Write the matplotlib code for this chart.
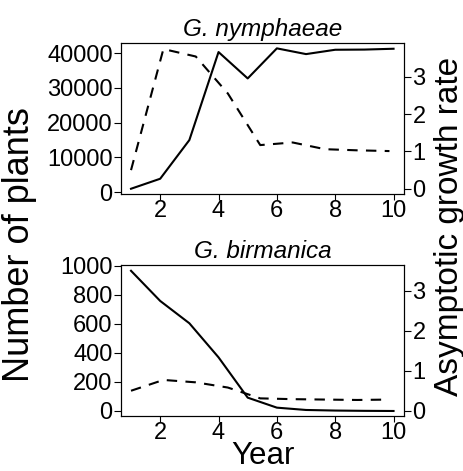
import numpy as np
import matplotlib
matplotlib.use("Agg")
import matplotlib.pyplot as plt

plt.rcParams['font.family'] = ['Liberation Sans', 'DejaVu Sans']

# Year axis for population size
years = [1, 2, 3, 4, 5, 6, 7, 8, 9, 10]
# Year axis for asymptotic growth rate (as drawn)
years_rate = [1, 2.11, 3.22, 4.32, 5.43, 6.54, 7.65, 8.75, 9.86]

# G. nymphaeae
nym_plants = [950, 3830, 14960, 40290, 32700, 41350, 39700, 40950, 41000, 41240]
nym_rate = [0.50, 3.74, 3.54, 2.55, 1.17, 1.24, 1.06, 1.03, 1.01]

# G. birmanica
bir_plants = [967, 759, 605, 370, 92, 23, 7, 3, 1, 0]
bir_rate = [0.50, 0.77, 0.71, 0.58, 0.31, 0.29, 0.28, 0.27, 0.28]

xticks = [2, 4, 6, 8, 10]
rate_ticks = [0, 1, 2, 3]

fig = plt.figure(figsize=(4.64, 4.71), dpi=100)
ax1 = fig.add_axes([0.2608, 0.588, 0.61, 0.3206])
ax2 = fig.add_axes([0.2608, 0.1168, 0.61, 0.3206])

panels = [
    (ax1, nym_plants, nym_rate, 'G. nymphaeae', (-575, 42880), [0, 10000, 20000, 30000, 40000], (-0.14, 3.9)),
    (ax2, bir_plants, bir_rate, 'G. birmanica', (-34.5, 1007), [0, 200, 400, 600, 800, 1000], (-0.13, 3.64)),
]

for ax, plants, rate, title, ylim, yticks, rlim in panels:
    ax.plot(years, plants, color='black', lw=1.5)
    ax.set_xlim(0.657, 10.36)
    ax.set_ylim(*ylim)
    ax.set_xticks(xticks)
    ax.set_yticks(yticks)
    ax.set_title(title, fontsize=17.5, style='italic', pad=5)
    ax.tick_params(direction='out', length=5, width=0.8, labelsize=17, pad=1)
    ax.tick_params(axis='x', length=4.5, pad=0)
    for s in ax.spines.values():
        s.set_linewidth(0.8)

    axr = ax.twinx()
    axr.plot(years_rate, rate, color='black', lw=1.5, linestyle=(0, (5, 4)))
    axr.set_ylim(*rlim)
    axr.set_yticks(rate_ticks)
    axr.tick_params(direction='out', length=5, width=0.8, labelsize=17, pad=1)
    for s in axr.spines.values():
        s.set_linewidth(0.8)

fig.text(0.043, 0.48, 'Number of plants', rotation=90, ha='center', va='center', fontsize=26)
fig.text(0.968, 0.52, 'Asymptotic growth rate', rotation=90, ha='center', va='center', fontsize=24)
fig.text(0.567, 0.0, 'Year', ha='center', va='bottom', fontsize=22.5)

fig.savefig('out.png', dpi=100)
